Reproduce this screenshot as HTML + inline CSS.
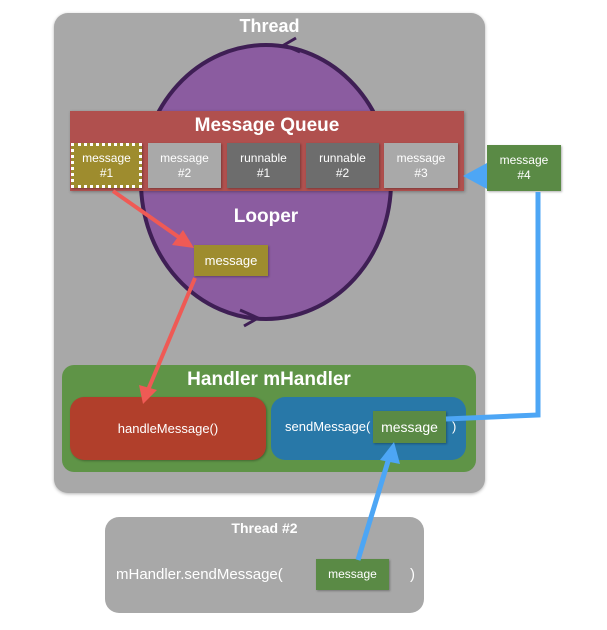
<!DOCTYPE html>
<html><head><style>
body{margin:0;width:607px;height:630px;background:#fff;position:relative;font-family:"Liberation Sans",sans-serif;overflow:hidden}
.a{position:absolute;box-sizing:border-box;color:#fff;text-align:center}
.b{display:flex;align-items:center;justify-content:center;font-size:12px;line-height:15px;box-shadow:1px 1px 2px rgba(0,0,0,.3)}
</style></head><body>
<div class="a" style="left:54px;top:13px;width:431px;height:480px;background:#a8a8a8;border-radius:14px;box-shadow:0 1px 3px rgba(0,0,0,.3)"></div>
<div class="a" style="left:54px;top:16px;width:431px;font-size:18px;font-weight:bold">Thread</div>
<svg width="607" height="630" style="position:absolute;left:0;top:0">
<ellipse cx="266" cy="182" rx="125" ry="137" fill="#8b5ca0" stroke="#3f1f55" stroke-width="4"/>
<path d="M300 52 L284 45 L296 38" fill="none" stroke="#3f1f55" stroke-width="3"/>
<path d="M240 310 L258 318 L244 326" fill="none" stroke="#3f1f55" stroke-width="3"/>
</svg>
<div class="a" style="left:70px;top:111px;width:394px;height:80px;background:#b0504e;box-shadow:1px 1px 3px rgba(0,0,0,.3)"></div>
<div class="a" style="left:70px;top:115px;width:394px;font-size:19px;font-weight:bold">Message Queue</div>
<div class="a b" style="left:71px;top:143px;width:71px;height:45px;background:#9e8c2e;border:3px dotted #fff">message<br>#1</div>
<div class="a b" style="left:148px;top:143px;width:73px;height:45px;background:#a9a9a9">message<br>#2</div>
<div class="a b" style="left:227px;top:143px;width:73px;height:45px;background:#6d6d6d">runnable<br>#1</div>
<div class="a b" style="left:306px;top:143px;width:73px;height:45px;background:#6d6d6d">runnable<br>#2</div>
<div class="a b" style="left:384px;top:143px;width:74px;height:45px;background:#a9a9a9">message<br>#3</div>
<div class="a b" style="left:487px;top:145px;width:74px;height:46px;background:#5a8a45">message<br>#4</div>
<div class="a" style="left:166px;top:206px;width:200px;font-size:19px;font-weight:bold">Looper</div>
<div class="a b" style="left:194px;top:245px;width:74px;height:31px;background:#9e8c2e;font-size:13px">message</div>
<div class="a" style="left:62px;top:365px;width:414px;height:107px;background:#5f9447;border-radius:12px"></div>
<div class="a" style="left:62px;top:369px;width:414px;font-size:19px;font-weight:bold">Handler mHandler</div>
<div class="a b" style="left:70px;top:397px;width:196px;height:63px;background:#b13f2b;border-radius:14px;font-size:13px">handleMessage()</div>
<div class="a" style="left:271px;top:397px;width:195px;height:63px;background:#2878a8;border-radius:14px"></div>
<div class="a" style="left:285px;top:419px;font-size:13px">sendMessage(</div>
<div class="a b" style="left:373px;top:411px;width:73px;height:32px;background:#5a8a45;font-size:14px">message</div>
<div class="a" style="left:452px;top:419px;font-size:13px">)</div>
<div class="a" style="left:105px;top:517px;width:319px;height:96px;background:#a8a8a8;border-radius:14px"></div>
<div class="a" style="left:105px;top:520px;width:319px;font-size:14px;font-weight:bold">Thread #2</div>
<div class="a" style="left:116px;top:566px;font-size:15px">mHandler.sendMessage(</div>
<div class="a b" style="left:316px;top:559px;width:73px;height:31px;background:#5a8a45;font-size:12px">message</div>
<div class="a" style="left:410px;top:566px;font-size:15px">)</div>
<svg width="607" height="630" style="position:absolute;left:0;top:0">
<g stroke="#ef5a55" stroke-width="4" fill="#ef5a55">
<line x1="113" y1="191" x2="180" y2="238"/><polygon points="194,248 172,245 183,230" stroke="none"/>
<line x1="195" y1="278" x2="148" y2="390"/><polygon points="143,404 139,385 157,390" stroke="none"/>
</g>
<g stroke="#4da6f5" stroke-width="5" fill="#4da6f5">
<polyline points="446,419 538,415 538,192" fill="none"/>
<line x1="487" y1="176" x2="478" y2="176"/><polygon points="463,176 487,163 487,189" stroke="none"/>
<line x1="358" y1="560" x2="389" y2="458"/><polygon points="394,442 400,464 380,460" stroke="none"/>
</g>
</svg>
</body></html>
